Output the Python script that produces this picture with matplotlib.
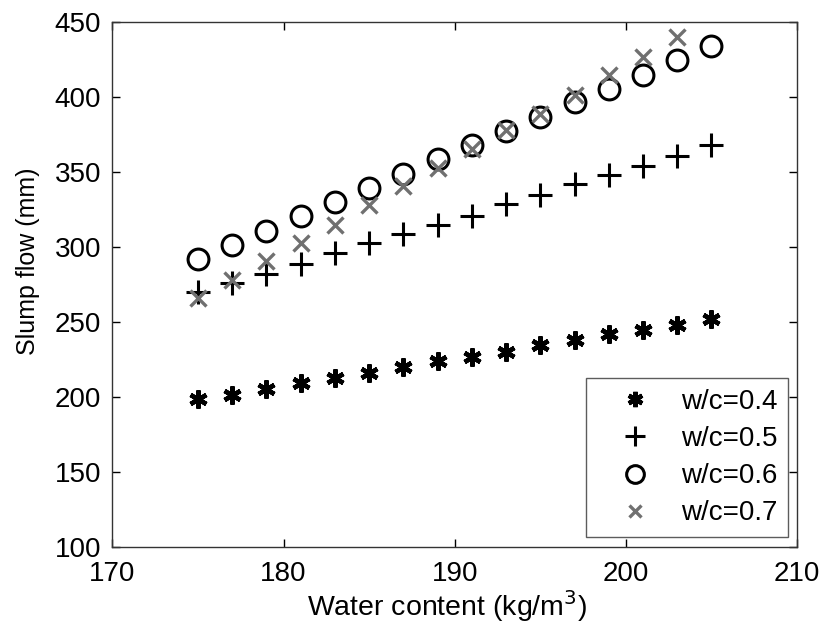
import matplotlib
matplotlib.use("Agg")
import matplotlib.pyplot as plt

plt.rcParams['font.family'] = ['Liberation Sans', 'DejaVu Sans']

water = [175, 177, 179, 181, 183, 185, 187, 189, 191, 193, 195, 197, 199, 201, 203, 205]
wc04 = [198.5, 201.5, 205.5, 209, 212.5, 216, 220, 224, 227, 230, 234.5, 238, 242, 245, 248, 252]
wc05 = [270, 276, 282, 289, 296, 302.5, 309, 315, 321, 329, 335, 342, 348, 354, 361, 368]
wc06 = [292, 301.5, 311, 320.5, 330, 339.5, 349, 358.5, 368, 377.5, 387, 396.5, 405.5, 415, 424.5, 434]
water07 = [175, 177, 179, 181, 183, 185, 187, 189, 191, 193, 195, 197, 199, 201, 203]
wc07 = [266, 278, 291, 303, 315, 328, 341, 352.5, 365.5, 378, 389, 401.5, 414.5, 427, 440]
labels = ["w/c=0.4", "w/c=0.5", "w/c=0.6", "w/c=0.7"]

fig = plt.figure(figsize=(8.26, 6.33), dpi=100)
ax = fig.add_axes([0.136, 0.136, 0.829, 0.829])

ax.plot(water, wc04, linestyle='none', marker=(6, 2, 0), markersize=13, markeredgewidth=3.2,
        color='black', label=labels[0])
ax.plot(water, wc05, linestyle='none', marker='+', markersize=17, markeredgewidth=2.2,
        color='black', label=labels[1])
ax.plot(water, wc06, linestyle='none', marker='o', markersize=15, markeredgewidth=2.2,
        markerfacecolor='none', color='black', label=labels[2])
ax.plot(water07, wc07, linestyle='none', marker='x', markersize=11, markeredgewidth=2.4,
        color='#707070', label=labels[3])

ax.set_xlim(170, 210)
ax.set_ylim(100, 450)
ax.set_xticks([170, 180, 190, 200, 210])
ax.set_yticks([100, 150, 200, 250, 300, 350, 400, 450])
ax.tick_params(direction='in', top=True, right=True, length=6, width=1, labelsize=20)
ax.tick_params(axis='x', pad=10)
ax.tick_params(axis='y', pad=8)
for s in ax.spines.values():
    s.set_linewidth(1.0)
    s.set_color('#333333')

ax.set_xlabel('Water content (kg/m$^3$)', fontsize=20.5)
ax.set_ylabel('Slump flow (mm)', fontsize=18)
ax.xaxis.set_label_coords(0.489, -0.078)
ax.yaxis.set_label_coords(-0.105, 0.545)

leg = ax.legend(loc='lower right', bbox_to_anchor=(0.987, 0.018), borderaxespad=0,
                fontsize=20, frameon=True, fancybox=False, edgecolor='#333333',
                handlelength=2.7, handletextpad=0.3, labelspacing=0.4, borderpad=0.4,
                markerscale=0.85)
leg.get_frame().set_linewidth(1.0)

fig.savefig('out.png', dpi=100)
